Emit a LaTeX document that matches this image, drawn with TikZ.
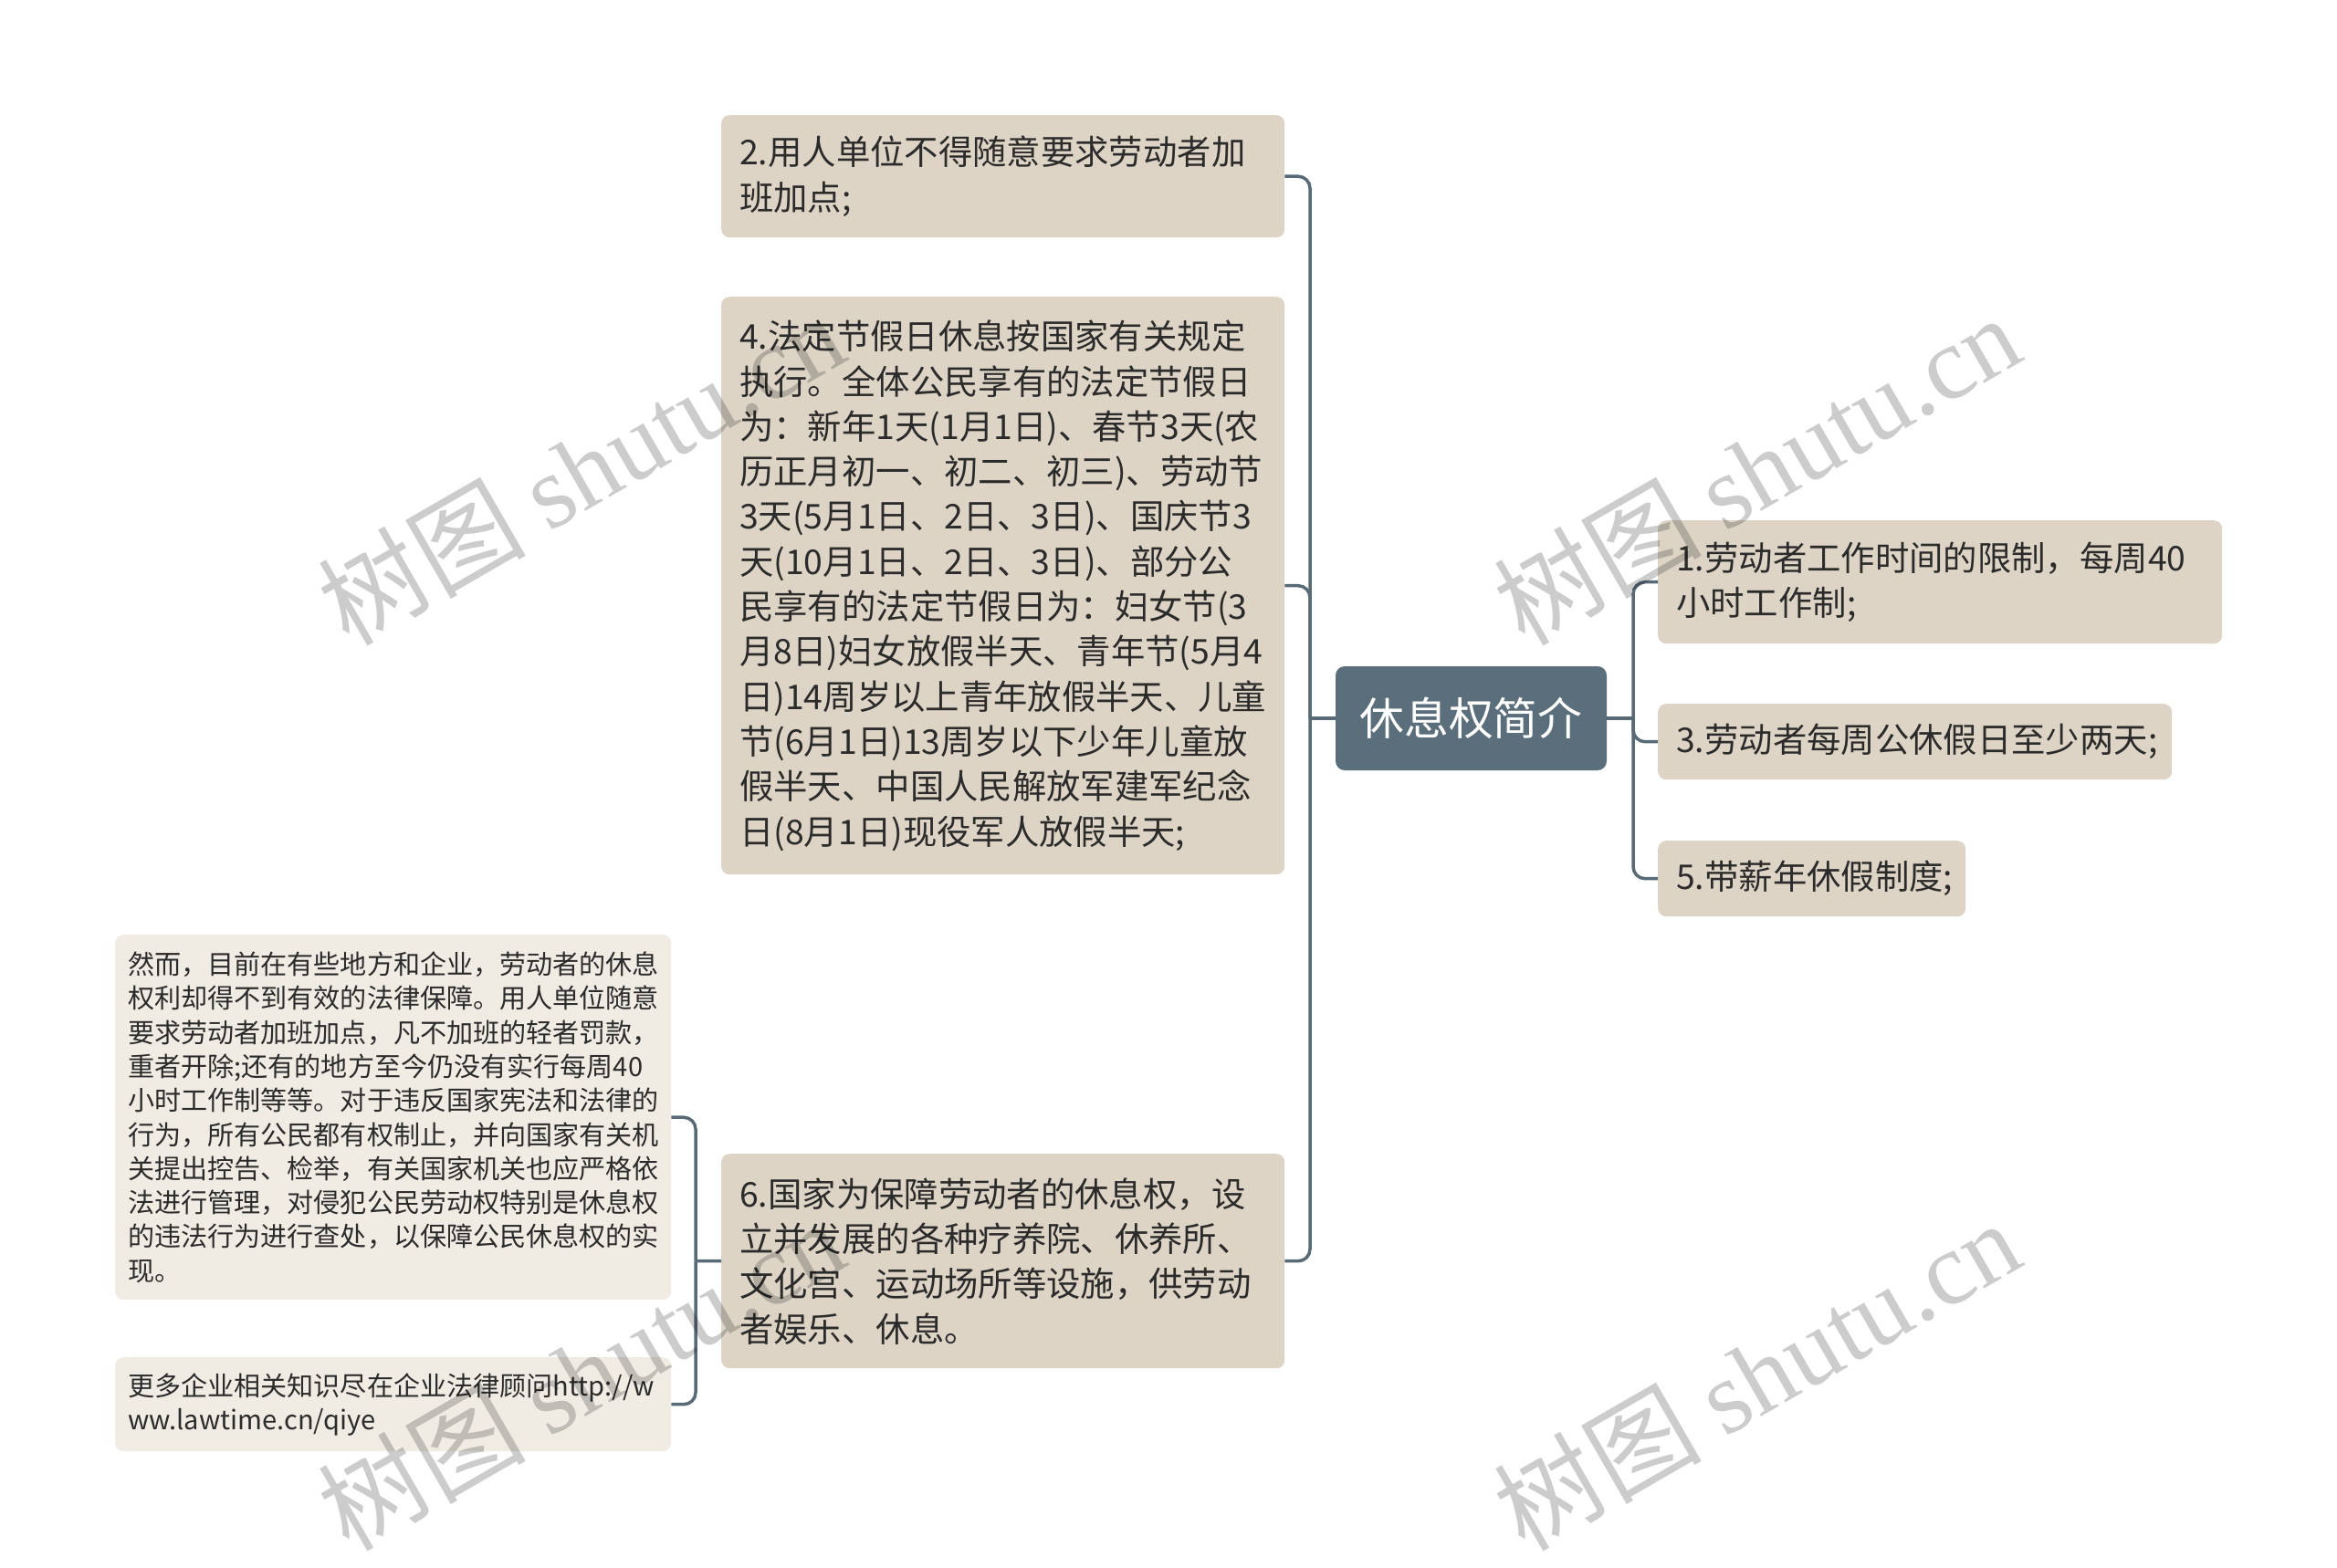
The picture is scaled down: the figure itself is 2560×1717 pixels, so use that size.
\documentclass[tikz,border=0pt]{standalone}
\usepackage{fontspec}
\setmainfont{Noto Sans CJK SC}
\newfontfamily\wmlatin{Liberation Serif}
\usepackage{xcolor}
\usetikzlibrary{positioning,calc}
\definecolor{rootfill}{HTML}{5B6E7B}
\definecolor{linecol}{HTML}{596A77}
\definecolor{boxfill}{HTML}{DDD4C5}
\definecolor{notefill}{HTML}{F0ECE4}
\definecolor{txtcol}{HTML}{2B2B2B}

\begin{document}
\begin{tikzpicture}[x=1bp, y=-1bp,
    topic/.style={rectangle, rounded corners=9bp, fill=boxfill, text=txtcol, align=left,
        font=\fontsize{37.5}{49.5}\selectfont, inner xsep=20bp, inner ysep=0pt, anchor=north west},
    note/.style={topic, fill=notefill, font=\fontsize{29.2}{37.4}\selectfont, inner xsep=14bp},
    rootbox/.style={rectangle, rounded corners=10bp, fill=rootfill, text=white,
        font=\fontsize{49}{56}\selectfont, minimum width=297bp, minimum height=114bp},
    linkline/.style={draw=linecol, line width=3.5bp, rounded corners=13bp},
    wmark/.style={rotate=30, text=black, text opacity=0.2, font=\fontsize{114}{120}\selectfont}]
\useasboundingbox (0,0) rectangle (2560,1717);

\node[rootbox] (root) at (1611.5,787) {休息权简介};

\node[topic, text width=577bp, minimum height=134bp] (t2) at (790,126) {2.用人单位不得随意要求劳动者加\\班加点;};
\node[topic, text width=577bp, minimum height=633bp] (t4) at (790,325) {4.法定节假日休息按国家有关规定\\执行。全体公民享有的法定节假日\\为：新年1天(1月1日)、春节3天(农\\历正月初一、初二、初三)、劳动节\\3天(5月1日、2日、3日)、国庆节3\\天(10月1日、2日、3日)、部分公\\民享有的法定节假日为：妇女节(3\\月8日)妇女放假半天、青年节(5月4\\日)14周岁以上青年放假半天、儿童\\节(6月1日)13周岁以下少年儿童放\\假半天、中国人民解放军建军纪念\\日(8月1日)现役军人放假半天;};
\node[topic, text width=577bp, minimum height=235bp] (t6) at (790,1264) {6.国家为保障劳动者的休息权，设\\立并发展的各种疗养院、休养所、\\文化宫、运动场所等设施，供劳动\\者娱乐、休息。};

\node[topic, text width=578bp, minimum height=135bp] (t1) at (1816,570) {1.劳动者工作时间的限制，每周40\\小时工作制;};
\node[topic, text width=523bp, minimum height=83bp] (t3) at (1816,771) {3.劳动者每周公休假日至少两天;};
\node[topic, text width=297bp, minimum height=83bp] (t5) at (1816,921) {5.带薪年休假制度;};

\node[note, text width=581bp, minimum height=400bp] (nA) at (126,1024) {然而，目前在有些地方和企业，劳动者的休息\\权利却得不到有效的法律保障。用人单位随意\\要求劳动者加班加点，凡不加班的轻者罚款，\\重者开除;还有的地方至今仍没有实行每周40\\小时工作制等等。对于违反国家宪法和法律的\\行为，所有公民都有权制止，并向国家有关机\\关提出控告、检举，有关国家机关也应严格依\\法进行管理，对侵犯公民劳动权特别是休息权\\的违法行为进行查处，以保障公民休息权的实\\现。};
\node[note, text width=581bp, minimum height=103bp] (nB) at (126,1487) {更多企业相关知识尽在企业法律顾问http://w\\ww.lawtime.cn/qiye};

\coordinate (jl) at (1435,787);
\coordinate (jr) at (1789,787);
\coordinate (jb) at (762,1381.5);

\draw[linkline] (root.west) -- (jl);
\foreach \c in {t2,t4,t6} \draw[linkline] (jl) |- (\c.east);
\draw[linkline] (root.east) -- (jr);
\foreach \c in {t1,t3,t5} \draw[linkline] (jr) |- (\c.west);
\draw[linkline] (t6.west) -- (jb);
\foreach \c in {nA,nB} \draw[linkline] (jb) |- (\c.east);

\node[wmark] (w1) at (636,514) {树图 {\wmlatin shutu.cn}};
\node[wmark] (w2) at (1924,514) {树图 {\wmlatin shutu.cn}};
\node[wmark] (w3) at (636,1506) {树图 {\wmlatin shutu.cn}};
\node[wmark] (w4) at (1924,1506) {树图 {\wmlatin shutu.cn}};
\end{tikzpicture}
\end{document}
